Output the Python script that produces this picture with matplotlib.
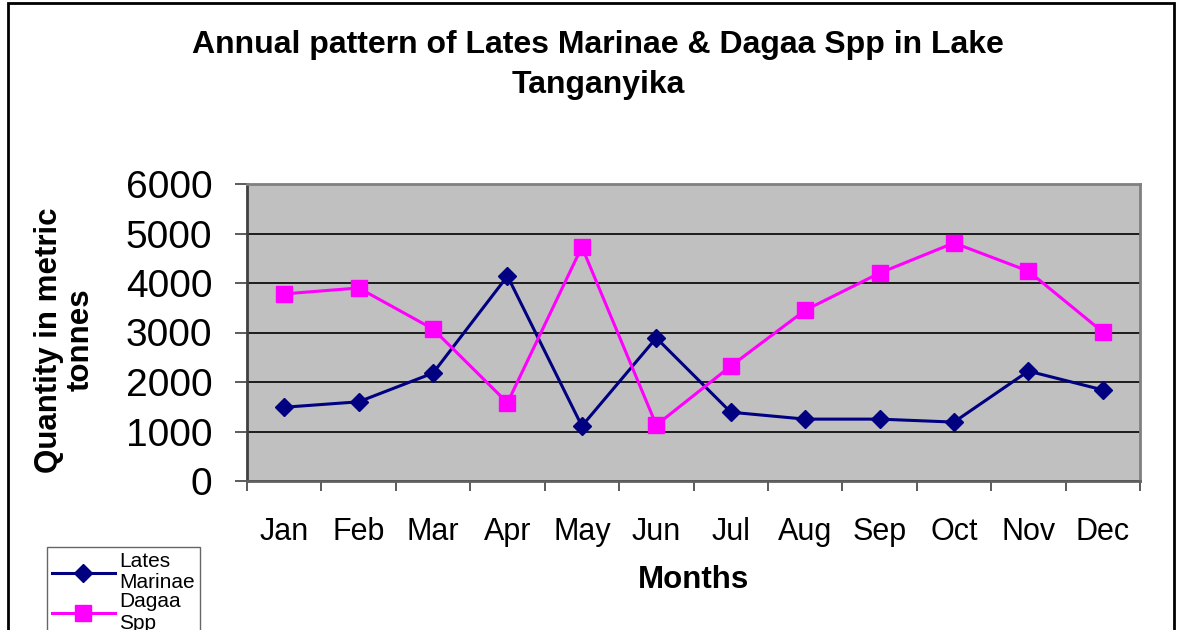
import matplotlib.pyplot as plt
import numpy as np
from matplotlib.patches import Rectangle

plt.rcParams["font.family"] = ["Liberation Sans", "DejaVu Sans"]

# Monthly catch, metric tonnes
months = ["Jan", "Feb", "Mar", "Apr", "May", "Jun",
          "Jul", "Aug", "Sep", "Oct", "Nov", "Dec"]
lates = [1490, 1600, 2180, 4140, 1110, 2890, 1390, 1250, 1250, 1190, 2220, 1840]
dagaa = [3780, 3900, 3070, 1580, 4730, 1130, 2320, 3450, 4200, 4810, 4240, 3010]

W, H = 1184, 630
fig = plt.figure(figsize=(W / 100, H / 100), dpi=100)
ax = fig.add_axes([247 / W, 1 - 481 / H, (1140 - 247) / W, (481 - 184) / H])
ax.set_facecolor("#C0C0C0")

x = np.arange(len(months))
ax.plot(x, lates, color="#000080", lw=2.2, marker="D", ms=9,
        mec="#000080", mfc="#000080", label="Lates\nMarinae", zorder=3)
ax.plot(x, dagaa, color="#FF00FF", lw=2.2, marker="s", ms=11,
        mec="#FF00FF", mfc="#FF00FF", label="Dagaa\nSpp", zorder=3)

ax.set_xlim(-0.5, 11.5)
ax.set_ylim(0, 6000)
ax.set_yticks(range(0, 6001, 1000))
ax.tick_params(axis="y", direction="out", length=9, width=1.2,
               color="#404040", labelsize=28, pad=16)

# month labels at centres, tick marks at boundaries
ax.set_xticks(x)
ax.set_xticklabels(months)
ax.tick_params(axis="x", which="major", length=0, labelsize=22, pad=26)
ax.set_xticks(np.arange(-0.5, 12, 1), minor=True)
ax.tick_params(axis="x", which="minor", direction="out", length=7,
               width=1.2, color="#404040")

ax.grid(axis="y", color="black", lw=1.2)
ax.set_axisbelow(True)
for side, c in [("left", "#404040"), ("bottom", "#606060"),
                ("top", "#808080"), ("right", "#808080")]:
    ax.spines[side].set_color(c)
    ax.spines[side].set_linewidth(2)

fig.text(598 / W, 1 - 65 / H,
         "Annual pattern of Lates Marinae & Dagaa Spp in Lake\nTanganyika",
         ha="center", va="center", fontsize=23, fontweight="bold",
         linespacing=1.4)
fig.text(65 / W, 1 - 340 / H, "Quantity in metric\ntonnes", rotation=90,
         ha="center", va="center", fontsize=22.5, fontweight="bold",
         multialignment="center", linespacing=1.05)
fig.text(694 / W, 1 - 580 / H, "Months", ha="center", va="center",
         fontsize=22.5, fontweight="bold")

leg = fig.legend(loc="upper left", bbox_to_anchor=(47 / W, 1 - 547 / H),
                 fontsize=15, frameon=True, fancybox=False, handlelength=3.0,
                 handletextpad=0.2, labelspacing=0.0, borderpad=0.25,
                 borderaxespad=0)
leg.get_frame().set_edgecolor("#404040")
leg.get_frame().set_linewidth(1)
for t in leg.get_texts():
    t.set_linespacing(1.15)

# outer chart border
fig.patches.append(Rectangle((8 / W, -0.05), (1174 - 8) / W, 1.05 - 3 / H,
                             transform=fig.transFigure, fill=False,
                             edgecolor="black", lw=2))

fig.savefig("out.png", dpi=100)
